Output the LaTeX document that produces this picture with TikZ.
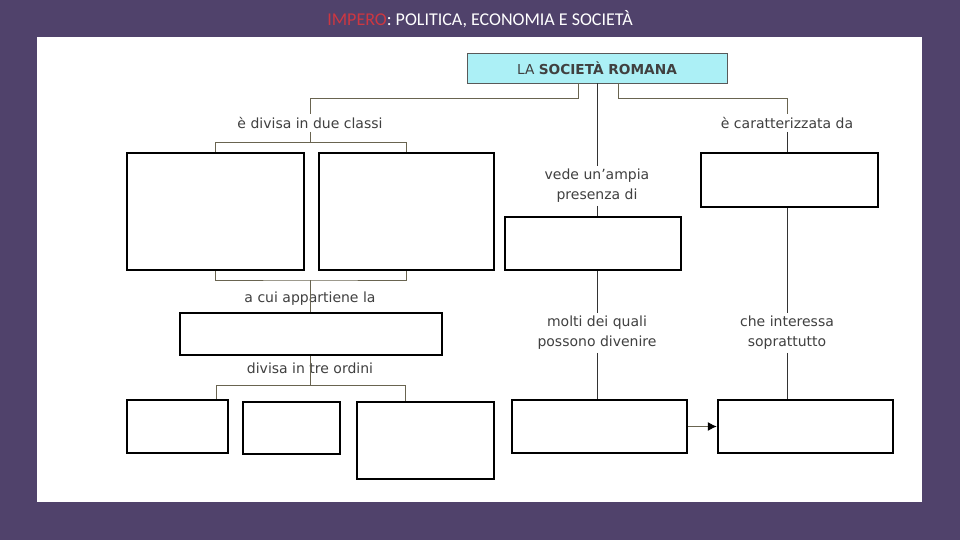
\documentclass[tikz,border=0pt]{standalone}
\usepackage{fontspec}
\setmainfont{DejaVu Sans}
\newfontfamily\titlefont{Carlito}
\usepackage{tikz}
\usetikzlibrary{arrows.meta,positioning}
\definecolor{bgpurple}{RGB}{80,66,107}
\definecolor{imperored}{RGB}{205,55,65}
\definecolor{rootcyan}{RGB}{172,240,246}
\definecolor{linkgray}{RGB}{105,100,80}

\begin{document}
\begin{tikzpicture}[x=1pt, y=-1pt,
  blank/.style={draw, line width=2.4pt, inner sep=0pt},
  lbl/.style={font=\fontsize{14}{20}\selectfont, text=black!75, align=center, inner sep=3pt},
  link/.style={draw=linkgray, line width=1pt}]

% background and title
\fill[bgpurple] (0,0) rectangle (960,540);
\fill[white] (37,37) rectangle (922,502);
\node[font=\titlefont\fontsize{18}{20}\selectfont, text=white] (title) at (480,19) {\textcolor{imperored}{IMPERO}: POLITICA, ECONOMIA E SOCIETÀ};

% root
\node[draw=black!65, fill=rootcyan, minimum width=260pt, minimum height=30pt, font=\fontsize{13.7}{15}\selectfont, text=black!75] (root) at (597,68) {LA \textbf{SOCIETÀ ROMANA}};

% labels
\node[lbl] (classi) at (310,123) {è divisa in due classi};
\node[lbl] (presenza) at (597,186) {vede un’ampia\\presenza di};
\node[lbl] (caratt) at (787,123) {è caratterizzata da};
\node[lbl] (appart) at (310,299) {a cui appartiene la};
\node[lbl] (ordini) at (310,368) {divisa in tre ordini};
\node[lbl] (quali) at (597,333) {molti dei quali\\possono divenire};
\node[lbl] (interessa) at (787,333) {che interessa\\soprattutto};

% empty boxes
\node[blank, minimum width=177pt, minimum height=117pt] (classe1) at (215.5,211.5) {};
\node[blank, minimum width=175pt, minimum height=117pt] (classe2) at (406.5,211.5) {};
\node[blank, minimum width=176pt, minimum height=53pt] (presenti) at (593,243.5) {};
\node[blank, minimum width=177pt, minimum height=54pt] (tratto) at (789.5,180) {};
\node[blank, minimum width=262pt, minimum height=42pt] (classe3) at (311,334) {};
\node[blank, minimum width=101pt, minimum height=53pt] (ordine1) at (177.5,426.5) {};
\node[blank, minimum width=97pt, minimum height=52pt] (ordine2) at (291.5,428) {};
\node[blank, minimum width=137pt, minimum height=77pt] (ordine3) at (425.5,440.5) {};
\node[blank, minimum width=175pt, minimum height=53pt] (divenire) at (599.5,426.5) {};
\node[blank, minimum width=175pt, minimum height=53pt] (interessati) at (805.5,426.5) {};

% junctions
\coordinate (jl) at (578,99);
\coordinate (jr) at (618,99);
\coordinate (bc) at (310,143);
\coordinate (bb) at (310,280);
\coordinate (bt) at (310,385);
\coordinate (tl) at (216,385);
\coordinate (tr) at (405,385);

% left branch
\draw[link] (root.south -| jl) -- (jl) -| (classi);
\draw[link] (classi) -- (bc) (bc) -| (classe1) (bc) -| (classe2);
\draw[link] (classe1) |- (bb) -| (classe2);
\draw[link] (bb) -- (classe3.north -| bb);
\draw[link] (classe3.south -| bt) -- (bt);
\draw[link] (tl) -- (tr);
\draw[link] (tl) -- (tl |- ordine1.north);
\draw[link] (tr) -- (tr |- ordine3.north);

% middle branch
\draw[link, draw=black!80] (root) -- (presenza);
\draw[link, draw=black!80] (presenza) -- (presenza |- presenti.north);
\draw[link, draw=black!80] (presenti.south -| quali) -- (quali);
\draw[link, draw=black!80] (quali) -- (quali |- divenire.north);

% right branch
\draw[link] (root.south -| jr) -- (jr) -| (caratt);
\draw[link, draw=black!80] (caratt) -- (caratt |- tratto.north);
\draw[link, draw=black!80] (tratto.south -| interessa) -- (interessa);
\draw[link, draw=black!80] (interessa) -- (interessa |- interessati.north);
\draw[link, -{Latex[length=9pt, width=9pt, black]}] (divenire) -- (interessati);

\end{tikzpicture}
\end{document}
